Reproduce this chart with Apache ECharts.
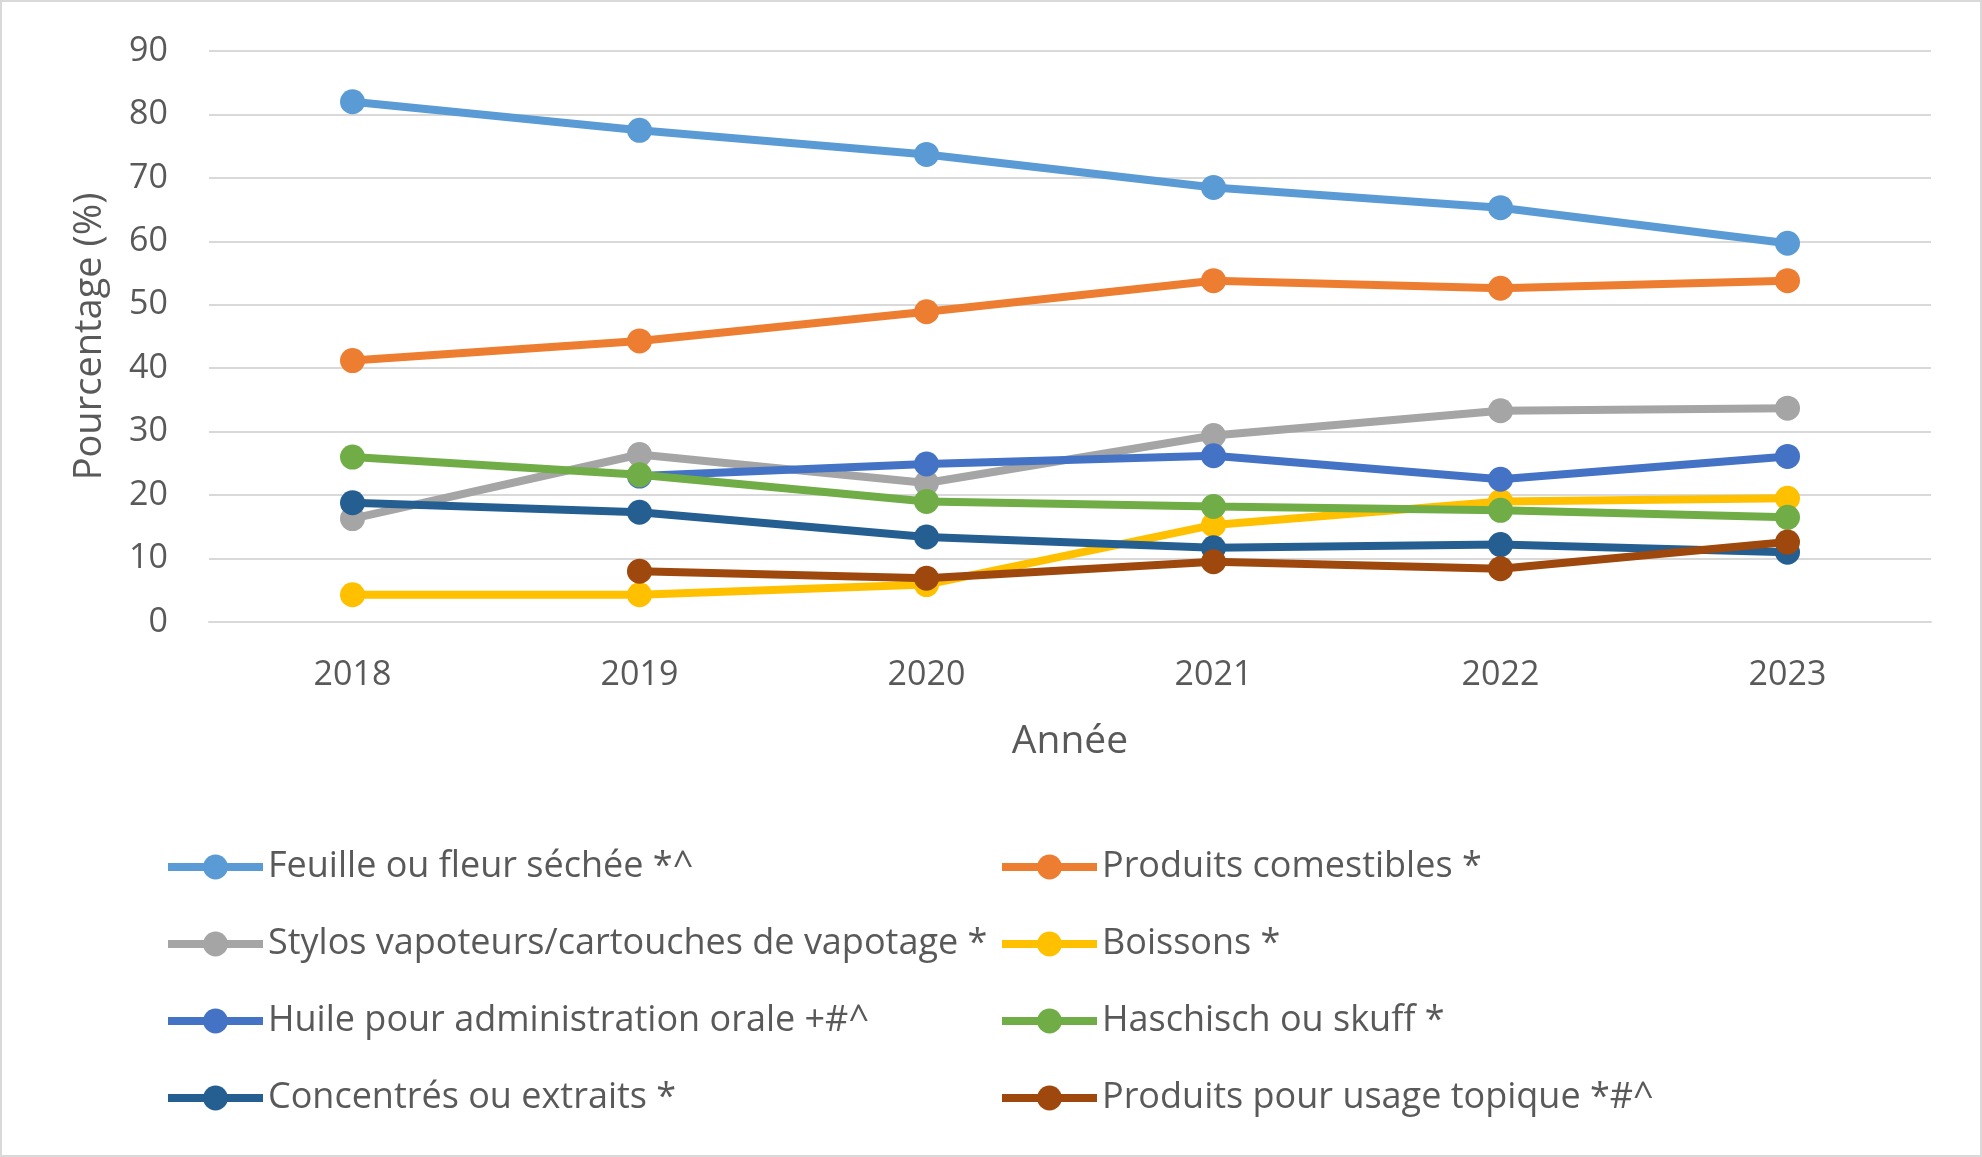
<!DOCTYPE html>
<html>
<head>
<meta charset="utf-8">
<script src="https://cdn.jsdelivr.net/npm/echarts@6/dist/echarts.min.js"></script>
<style>
html,body{margin:0;padding:0;background:#fff;}
#c{width:1982px;height:1157px;}
</style>
</head>
<body>
<div id="c"></div>
<script>
const years = ['2018','2019','2020','2021','2022','2023'];
const feuille = [82.0, 77.5, 73.7, 68.5, 65.3, 59.7];
const comestibles = [41.2, 44.3, 48.9, 53.8, 52.6, 53.8];
const stylos = [16.3, 26.4, 21.9, 29.4, 33.3, 33.7];
const boissons = [4.3, 4.3, 5.9, 15.3, 19.0, 19.5];
const huile = [null, 23.0, 24.9, 26.2, 22.5, 26.1];
const haschisch = [26.0, 23.2, 19.0, 18.2, 17.6, 16.5];
const concentres = [18.8, 17.3, 13.4, 11.7, 12.2, 11.0];
const topique = [null, 8.0, 6.9, 9.5, 8.4, 12.6];
const yTicks = [0, 90, 10];

const names = [
  'Feuille ou fleur séchée *^',
  'Produits comestibles *',
  'Stylos vapoteurs/cartouches de vapotage *',
  'Boissons *',
  'Huile pour administration orale +#^',
  'Haschisch ou skuff *',
  'Concentrés ou extraits *',
  'Produits pour usage topique *#^'
];
const data = [feuille, comestibles, stylos, boissons, huile, haschisch, concentres, topique];
const colors = ['#5B9BD5','#ED7D31','#A5A5A5','#FFC000','#4472C4','#70AD47','#255E91','#9E480E'];

const font = '"Open Sans", Lato, sans-serif';
const txt = '#595959';

const chart = echarts.init(document.getElementById('c'), null, {renderer:'canvas'});
const legendBase = {
  orient: 'vertical',
  top: 844,
  itemGap: 41,
  itemWidth: 95,
  itemHeight: 31,
  lineStyle: {width: 8},
  textStyle: {fontFamily: font, fontSize: 36, color: txt}
};
chart.setOption({
  animation: false,
  backgroundColor: '#fff',
  color: colors,
  graphic: [{type:'rect', shape:{x:1,y:1,width:1980,height:1155}, style:{fill:'none', stroke:'#d9d9d9', lineWidth:2}, silent:true}],
  grid: {left: 209, right: 51, top: 51, bottom: 535},
  legend: [
    Object.assign({}, legendBase, {left: 159, data: [names[0], names[2], names[4], names[6]]}),
    Object.assign({}, legendBase, {left: 993, data: [names[1], names[3], names[5], names[7]]})
  ],
  xAxis: {
    type: 'category',
    data: years,
    boundaryGap: true,
    axisLine: {show: true, lineStyle: {color: '#d9d9d9', width: 2}},
    axisTick: {show: false},
    axisLabel: {fontFamily: font, fontSize: 34, color: txt, margin: 36},
    name: 'Année',
    nameLocation: 'middle',
    nameGap: 100,
    nameTextStyle: {fontFamily: font, fontSize: 39, color: txt}
  },
  yAxis: {
    type: 'value',
    min: yTicks[0],
    max: yTicks[1],
    interval: yTicks[2],
    axisLine: {show: false},
    axisTick: {show: false},
    splitLine: {lineStyle: {color: '#d9d9d9', width: 2}},
    axisLabel: {fontFamily: font, fontSize: 34, color: txt, margin: 41},
    name: 'Pourcentage (%)',
    nameLocation: 'middle',
    nameGap: 100,
    nameTextStyle: {fontFamily: font, fontSize: 38, color: txt}
  },
  series: names.map((n, i) => ({
    name: n,
    type: 'line',
    data: data[i],
    symbol: 'circle',
    symbolSize: 25,
    showSymbol: true,
    connectNulls: false,
    lineStyle: {width: 8, color: colors[i]},
    itemStyle: {color: colors[i]},
    z: 2 + i
  }))
});
</script>
</body>
</html>
